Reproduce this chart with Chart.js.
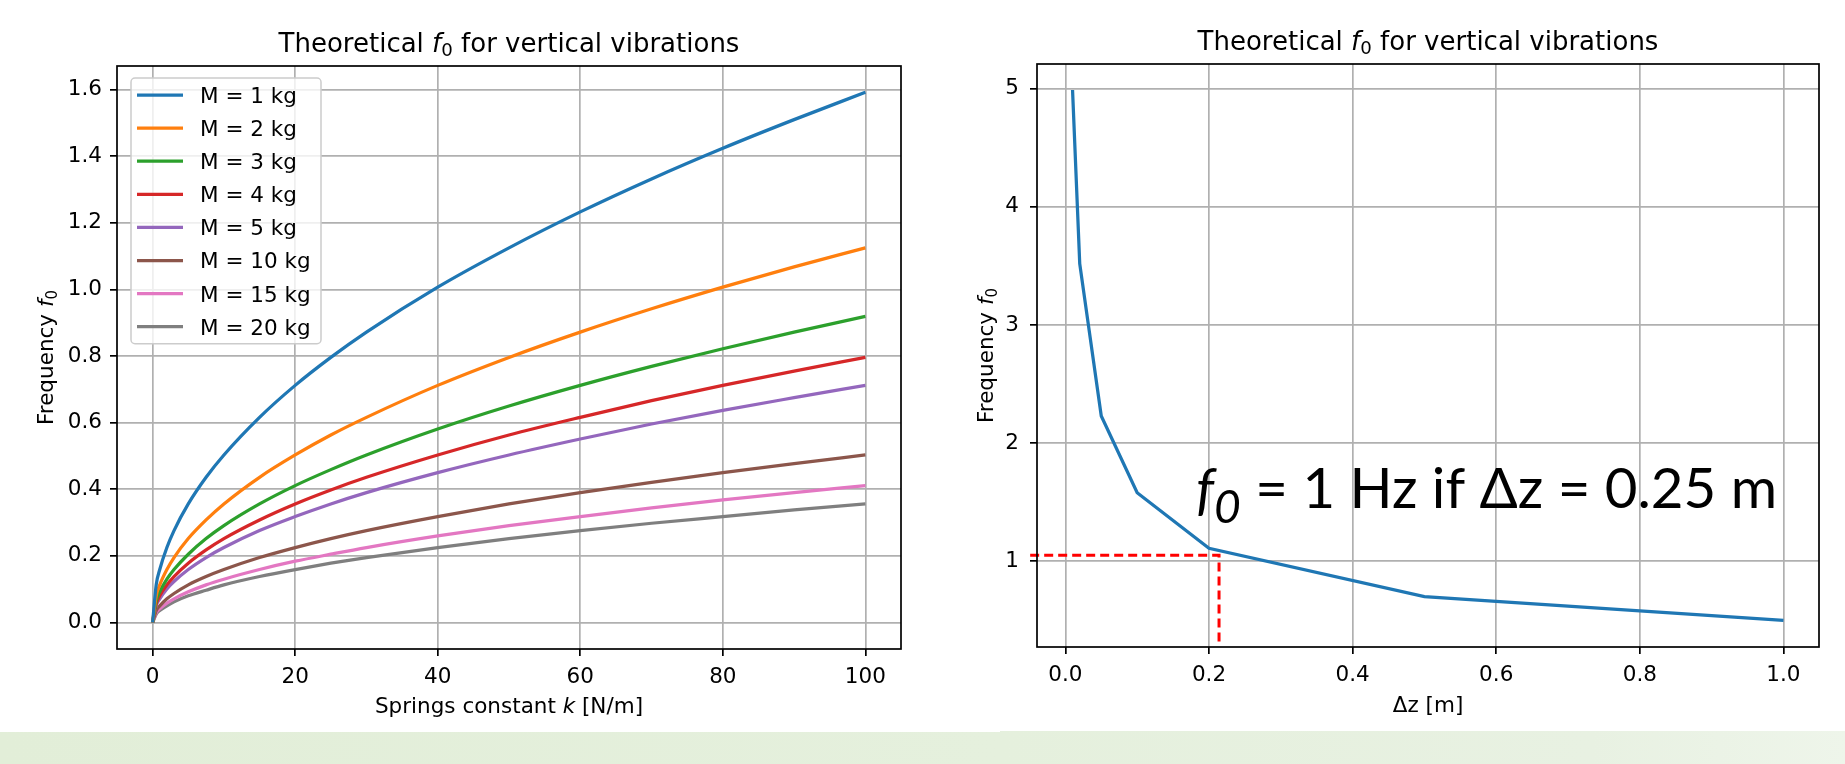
<!DOCTYPE html>
<html>
<head>
<meta charset="utf-8">
<script src="https://cdn.jsdelivr.net/npm/chart.js@4.4.1/dist/chart.umd.min.js"></script>
<style>
  body { margin: 0; width: 1845px; height: 764px; background: #fff; position: relative; overflow: hidden; }
  .band { position: absolute; height: 40px; }
  #bandL { left: 0; top: 732px; width: 1000px; background: linear-gradient(to right, #e2eed8, #e5f0dd); }
  #bandR { left: 1000px; top: 731px; width: 845px; background: linear-gradient(to right, #e5f0dd, #e8f1e2 70%, #eef5ea); }
  canvas { position: absolute; top: 0; }
  #chartK { left: 0; }
  #chartZ { left: 920px; }
</style>
</head>
<body>
<div class="band" id="bandL"></div>
<div class="band" id="bandR"></div>
<canvas id="chartK" width="920" height="764"></canvas>
<canvas id="chartZ" width="925" height="764"></canvas>
<script>
// left plot: f0 against spring constant, one curve per mass
const springK = [0, 0.5, 1, 2, 3, 5, 7.5, 10, 15, 20, 25, 30, 40, 50, 60, 70, 80, 90, 100];
const massLabels = ["M = 1 kg", "M = 2 kg", "M = 3 kg", "M = 4 kg", "M = 5 kg", "M = 10 kg", "M = 15 kg", "M = 20 kg"];
const freqM1  = [0, 0.113, 0.159, 0.225, 0.276, 0.356, 0.436, 0.503, 0.616, 0.712, 0.796, 0.872, 1.007, 1.125, 1.233, 1.332, 1.424, 1.510, 1.592];
const freqM2  = [0, 0.080, 0.113, 0.159, 0.195, 0.252, 0.308, 0.356, 0.436, 0.503, 0.563, 0.616, 0.712, 0.796, 0.872, 0.942, 1.007, 1.068, 1.125];
const freqM3  = [0, 0.065, 0.092, 0.130, 0.159, 0.205, 0.252, 0.291, 0.356, 0.411, 0.459, 0.503, 0.581, 0.650, 0.712, 0.769, 0.822, 0.872, 0.919];
const freqM4  = [0, 0.056, 0.080, 0.113, 0.138, 0.178, 0.218, 0.252, 0.308, 0.356, 0.398, 0.436, 0.503, 0.563, 0.616, 0.666, 0.712, 0.755, 0.796];
const freqM5  = [0, 0.050, 0.071, 0.101, 0.123, 0.159, 0.195, 0.225, 0.276, 0.318, 0.356, 0.390, 0.450, 0.503, 0.551, 0.596, 0.637, 0.675, 0.712];
const freqM10 = [0, 0.036, 0.050, 0.071, 0.087, 0.113, 0.138, 0.159, 0.195, 0.225, 0.252, 0.276, 0.318, 0.356, 0.390, 0.421, 0.450, 0.477, 0.503];
const freqM15 = [0, 0.029, 0.041, 0.058, 0.071, 0.092, 0.113, 0.130, 0.159, 0.184, 0.205, 0.225, 0.260, 0.291, 0.318, 0.344, 0.368, 0.390, 0.411];
const freqM20 = [0, 0.025, 0.036, 0.050, 0.062, 0.080, 0.097, 0.113, 0.138, 0.159, 0.178, 0.195, 0.225, 0.252, 0.276, 0.298, 0.318, 0.338, 0.356];
const kTicks = [0, 20, 40, 60, 80, 100];
const fTicksK = [0, 0.2, 0.4, 0.6, 0.8, 1.0, 1.2, 1.4, 1.6];

// right plot: f0 against static deflection
const deltaZ = [0.01, 0.02, 0.05, 0.1, 0.2, 0.5, 1.0];
const freqDz = [4.99, 3.52, 2.23, 1.58, 1.11, 0.70, 0.50];
const guideDz = [-0.049, 0.214, 0.214];
const guideF = [1.05, 1.05, 0.29];
const dzTicks = [0, 0.2, 0.4, 0.6, 0.8, 1.0];
const fTicksDz = [1, 2, 3, 4, 5];

const massColors = ["#1f77b4", "#ff7f0e", "#2ca02c", "#d62728", "#9467bd", "#8c564b", "#e377c2", "#7f7f7f"];
const massSeries = [freqM1, freqM2, freqM3, freqM4, freqM5, freqM10, freqM15, freqM20];

Chart.defaults.font.family = "DejaVu Sans";
Chart.defaults.font.size = 21.5;
Chart.defaults.color = "#000";

const titleParts = [{ text: "Theoretical " }, { text: "f", italic: true }, { text: "0", sub: true }, { text: " for vertical vibrations" }];
const yLabelParts = [{ text: "Frequency " }, { text: "f", italic: true }, { text: "0", sub: true }];

// draws a line of text made of pieces (italic, subscript) centred or left aligned on x
function richText(ctx, parts, o) {
  const family = o.family || "DejaVu Sans";
  const fontOf = (p) => (p.italic ? "italic " : "") + (p.sub ? o.size * (o.subScale || 0.7) : o.size) + 'px "' + family + '"';
  ctx.save();
  ctx.translate(o.x, o.y);
  if (o.rotate) ctx.rotate(-Math.PI / 2);
  let total = 0;
  const widths = parts.map((p) => {
    ctx.font = fontOf(p);
    const w = ctx.measureText(p.text).width;
    total += w;
    return w;
  });
  if (o.fitWidth) ctx.scale(o.fitWidth / total, 1);
  let cx = o.align === "left" ? 0 : -total / 2;
  ctx.fillStyle = "#000";
  ctx.textAlign = "left";
  ctx.textBaseline = "alphabetic";
  parts.forEach((p, i) => {
    ctx.font = fontOf(p);
    ctx.fillText(p.text, cx, p.sub ? o.size * (o.subDrop || 0.17) : 0);
    cx += widths[i];
  });
  ctx.restore();
}

function spines(chart) {
  const a = chart.chartArea;
  const ctx = chart.ctx;
  ctx.save();
  ctx.strokeStyle = "#000";
  ctx.lineWidth = 1.7;
  ctx.strokeRect(a.left, a.top, a.right - a.left, a.bottom - a.top);
  ctx.restore();
}

const gridOpts = { color: "#b0b0b0", lineWidth: 1.7, tickColor: "#000", tickLength: 7, tickWidth: 1.7 };

const frameK = {
  id: "frameK",
  afterDatasetsDraw(chart) { spines(chart); },
  afterDraw(chart) {
    const ctx = chart.ctx;
    const a = chart.chartArea;
    const cx = (a.left + a.right) / 2;
    richText(ctx, titleParts, { x: cx, y: a.top - 14.5, size: 26 });
    richText(ctx, [{ text: "Springs constant " }, { text: "k", italic: true }, { text: " [N/m]" }], { x: cx, y: 713, size: 21.5 });
    richText(ctx, yLabelParts, { x: 53, y: (a.top + a.bottom) / 2, size: 21.5, rotate: true });

    // legend box, upper left
    const lx = a.left + 14, ly = a.top + 12;
    const step = 33.1;
    const items = chart.data.datasets;
    const h = 34 + step * (items.length - 1);
    ctx.save();
    ctx.beginPath();
    ctx.roundRect(lx, ly, 190, h, 4);
    ctx.fillStyle = "rgba(255,255,255,0.8)";
    ctx.fill();
    ctx.strokeStyle = "#cccccc";
    ctx.lineWidth = 1.5;
    ctx.stroke();
    ctx.font = '21.5px "DejaVu Sans"';
    ctx.textBaseline = "alphabetic";
    items.forEach((d, i) => {
      const cy = ly + 17 + step * i;
      ctx.beginPath();
      ctx.moveTo(lx + 6, cy);
      ctx.lineTo(lx + 52, cy);
      ctx.strokeStyle = d.borderColor;
      ctx.lineWidth = 3.25;
      ctx.stroke();
      ctx.fillStyle = "#000";
      ctx.fillText(d.label, lx + 69, cy + 7.9);
    });
    ctx.restore();
  },
};

const frameZ = {
  id: "frameZ",
  afterDatasetsDraw(chart) { spines(chart); },
  afterDraw(chart) {
    const ctx = chart.ctx;
    const a = chart.chartArea;
    const cx = (a.left + a.right) / 2;
    richText(ctx, titleParts, { x: cx, y: a.top - 14, size: 26 });
    richText(ctx, [{ text: "Δz [m]" }], { x: cx, y: 712, size: 21.5 });
    richText(ctx, yLabelParts, { x: 73, y: (a.top + a.bottom) / 2, size: 21.5, rotate: true });
    // slide annotation
    richText(ctx, [{ text: "f", italic: true }, { text: "0", italic: true, sub: true }, { text: " = 1 Hz if Δz = 0.25 m" }],
      { x: 276, y: 508, size: 56, family: "Lato", align: "left", subScale: 0.82, subDrop: 0.27, fitWidth: 581 });
  },
};

new Chart(document.getElementById("chartK"), {
  type: "line",
  data: {
    datasets: massSeries.map((vals, i) => ({
      label: massLabels[i],
      data: springK.map((k, j) => ({ x: k, y: vals[j] })),
      borderColor: massColors[i],
      borderWidth: 3.25,
      pointRadius: 0,
      cubicInterpolationMode: "monotone",
    })),
  },
  options: {
    responsive: false,
    animation: false,
    events: [],
    layout: { padding: { left: 0, top: 66, right: 19, bottom: 0 } },
    plugins: { legend: { display: false }, tooltip: { enabled: false }, title: { display: false } },
    scales: {
      x: {
        type: "linear",
        min: -5,
        max: 105,
        afterBuildTicks: (s) => { s.ticks = kTicks.map((v) => ({ value: v })); },
        afterFit: (s) => { s.height = 115; },
        ticks: { padding: 9, callback: (v) => String(v) },
        grid: gridOpts,
        border: { display: false },
      },
      y: {
        min: -0.0796,
        max: 1.671,
        afterBuildTicks: (s) => { s.ticks = fTicksK.map((v) => ({ value: v })); },
        afterFit: (s) => { s.width = 117; },
        ticks: { padding: 8, callback: (v) => Number(v).toFixed(1) },
        grid: gridOpts,
        border: { display: false },
      },
    },
  },
  plugins: [frameK],
});

new Chart(document.getElementById("chartZ"), {
  type: "line",
  data: {
    datasets: [
      {
        label: "f0",
        data: deltaZ.map((z, i) => ({ x: z, y: freqDz[i] })),
        borderColor: "#1f77b4",
        borderWidth: 3.25,
        pointRadius: 0,
        tension: 0,
      },
      {
        label: "guide",
        data: guideDz.map((z, i) => ({ x: z, y: guideF[i] })),
        borderColor: "#ff0000",
        borderWidth: 3,
        borderDash: [9, 5],
        pointRadius: 0,
        tension: 0,
        clip: false,
      },
    ],
  },
  options: {
    responsive: false,
    animation: false,
    events: [],
    layout: { padding: { left: 0, top: 64, right: 26, bottom: 0 } },
    plugins: { legend: { display: false }, tooltip: { enabled: false }, title: { display: false } },
    scales: {
      x: {
        type: "linear",
        min: -0.0395,
        max: 1.0495,
        afterBuildTicks: (s) => { s.ticks = dzTicks.map((v) => ({ value: v })); },
        afterFit: (s) => { s.height = 117; },
        ticks: { padding: 9, callback: (v) => Number(v).toFixed(1) },
        grid: gridOpts,
        border: { display: false },
      },
      y: {
        min: 0.274,
        max: 5.21,
        afterBuildTicks: (s) => { s.ticks = fTicksDz.map((v) => ({ value: v })); },
        afterFit: (s) => { s.width = 117; },
        ticks: { padding: 11, callback: (v) => String(v) },
        grid: gridOpts,
        border: { display: false },
      },
    },
  },
  plugins: [frameZ],
});
</script>
</body>
</html>
